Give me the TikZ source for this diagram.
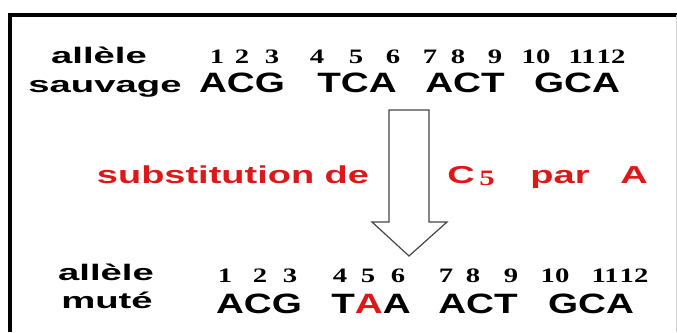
\documentclass[tikz,border=0pt]{standalone}
\usepackage{fontspec}
\newfontfamily\labfont{Liberation Sans Bold}[FakeStretch=1.7]
\newfontfamily\seqfont{Liberation Sans Bold}[FakeStretch=1.38]
\newfontfamily\substfont{Liberation Sans Bold}[FakeStretch=1.55]
\newfontfamily\numfont{Liberation Serif Bold}[FakeStretch=1.4]
\definecolor{substred}{RGB}{222,24,24}
\definecolor{arrowgray}{RGB}{70,70,70}

\begin{document}
\begin{tikzpicture}[x=1pt, y=-1pt,
  lab/.style={anchor=base, inner sep=0pt, font=\labfont\fontsize{22.5}{22.5}\selectfont},
  seq/.style={anchor=base, inner sep=0pt, font=\seqfont\fontsize{28}{28}\selectfont},
  num/.style={anchor=base, inner sep=0pt, font=\numfont\fontsize{20.5}{20.5}\selectfont},
  subst/.style={anchor=base, inner sep=0pt, text=substred, font=\substfont\fontsize{24.5}{24.5}\selectfont}]
  \useasboundingbox[fill=white] (0,0) rectangle (677,332);

  % frame
  \draw[line width=4pt] (10,332) -- (10,15) -- (677,15);
  \draw[gray!35, line width=1pt] (676,15) -- (676,332);

  % wild type allele
  \node[lab] (allA) at (99,63) {allèle};
  \node[lab] (sauv) at (105,92) {sauvage};
  \foreach \n/\x in {1/217, 2/242, 3/272, 4/317, 5/356, 6/393, 7/430, 8/458, 9/495, 10/536}
    \node[num] (tn\n) at (\x,63) {\n};
  \node[num] (tn11) at (597,63) {11\kern1pt12};
  \node[seq] (wc1) at (242,92) {ACG};
  \node[seq] (wc2) at (357,92) {TCA};
  \node[seq] (wc3) at (465,92) {ACT};
  \node[seq] (wc4) at (577,92) {GCA};

  % substitution
  \node[subst] (sub) at (233,183) {substitution de};
  \node[subst] (cc) at (461,183) {C};
  \node[anchor=base, inner sep=0pt, text=substred, font=\numfont\fontsize{22}{22}\selectfont] (c5) at (487,185) {5};
  \node[subst] (par) at (560,183) {par};
  \node[subst] (aa) at (634,183) {A};

  % hollow arrow
  \coordinate (p1) at (389,110);
  \coordinate (p2) at (429,110);
  \draw[arrowgray, line width=1.2pt, line join=miter]
    (p1) -- (389,222) -- (372,222) -- (409,256) -- (447,222) -- (429,222) -- (p2) -- cycle;

  % mutated allele
  \node[lab] (allB) at (106,280) {allèle};
  \node[lab] (mute) at (107,308) {muté};
  \foreach \n/\x in {1/225, 2/260, 3/290, 4/340, 5/368, 6/398, 7/446, 8/473, 9/511, 10/555}
    \node[num] (bn\n) at (\x,282) {\n};
  \node[num] (bn11) at (620,282) {11\kern1pt12};
  \node[seq] (mc1) at (259,313) {ACG};
  \node[seq] (mc2) at (371,313) {T\textcolor{substred}{A}A};
  \node[seq] (mc3) at (478,313) {ACT};
  \node[seq] (mc4) at (591,313) {GCA};
\end{tikzpicture}
\end{document}
